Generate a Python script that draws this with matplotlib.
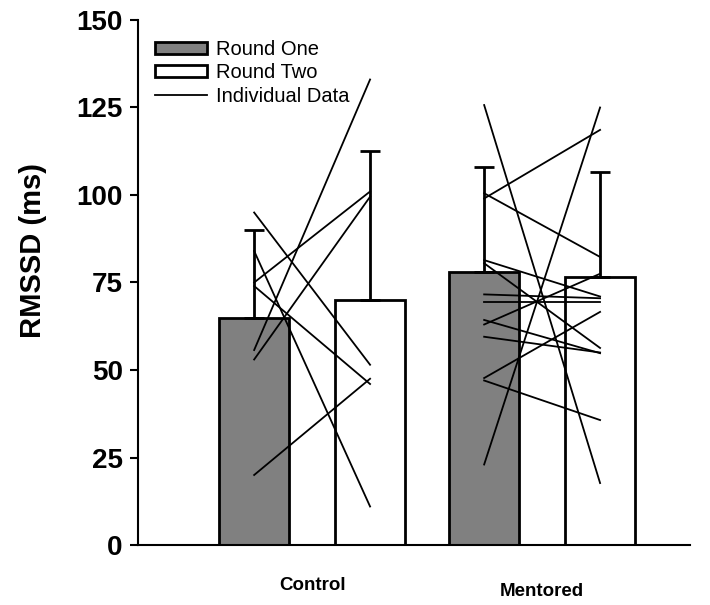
import matplotlib
matplotlib.use('Agg')
import matplotlib.pyplot as plt
import numpy as np
from matplotlib.patches import Patch
from matplotlib.lines import Line2D

plt.rcParams['font.family'] = ['Liberation Sans', 'DejaVu Sans']

# group labels and bar data
groups = ['Control', 'Mentored']
round_one = [65, 78]
round_two = [70, 76.5]
round_one_sd = [25, 30]
round_two_sd = [42.5, 30]

# individual data: (round one, round two) per subject
control_r1 = [55.7, 53, 75, 95, 84, 74, 20]
control_r2 = [133, 99.5, 101, 51.5, 11, 46, 47.5]
mentored_r1 = [125.7, 23, 99, 100.5, 81.4, 80.5, 71.6, 69.5, 64.3, 63, 59.5, 47.7, 47]
mentored_r2 = [17.7, 125, 118.6, 82.3, 71, 56.3, 70.5, 69.5, 54.8, 77.5, 55, 66.6, 35.7]

fig = plt.figure(figsize=(7.1, 6.05), dpi=100)
ax = fig.add_axes([138/710, 60/605, 552/710, 525/605])

x = np.arange(len(groups))
off = 0.252
w = 0.304

ax.bar(x - off, round_one, w, color='#808080', edgecolor='black', linewidth=2, zorder=2, label='Round One')
ax.bar(x + off, round_two, w, color='white', edgecolor='black', linewidth=2, zorder=2, label='Round Two')
ax.errorbar(x - off, round_one, yerr=[np.zeros(2), round_one_sd], fmt='none', ecolor='black',
            elinewidth=2, capsize=7, capthick=2, zorder=3)
ax.errorbar(x + off, round_two, yerr=[np.zeros(2), round_two_sd], fmt='none', ecolor='black',
            elinewidth=2, capsize=7, capthick=2, zorder=3)

# individual lines
for a, b in zip(control_r1, control_r2):
    ax.plot([x[0] - off, x[0] + off], [a, b], color='black', lw=1.3, zorder=4)
for a, b in zip(mentored_r1, mentored_r2):
    ax.plot([x[1] - off, x[1] + off], [a, b], color='black', lw=1.3, zorder=4)

ax.set_xlim(-0.757, 1.643)
ax.set_ylim(0, 150)
ax.set_yticks([0, 25, 50, 75, 100, 125, 150])
ax.set_xticks(x)
ax.set_xticklabels(groups, fontsize=13.5, fontweight='bold')
ax.tick_params(axis='x', length=0, pad=23)
ax.tick_params(axis='y', direction='out', length=6, width=1.5, labelsize=20, pad=5)
for lab in ax.get_yticklabels():
    lab.set_fontweight('bold')
# second group label sits a little lower in the original
ax.get_xticklabels()[1].set_y(-0.012)
ax.set_ylabel('RMSSD (ms)', fontsize=21, fontweight='bold')
ax.yaxis.set_label_coords(-0.165, 0.56)

for s in ['top', 'right']:
    ax.spines[s].set_visible(False)
for s in ['left', 'bottom']:
    ax.spines[s].set_linewidth(1.5)

handles = [Patch(facecolor='#808080', edgecolor='black', linewidth=2),
           Patch(facecolor='white', edgecolor='black', linewidth=2),
           Line2D([0], [0], color='black', lw=1.3)]
ax.legend(handles, ['Round One', 'Round Two', 'Individual Data'], loc='upper left',
          bbox_to_anchor=(0.03, 0.962), frameon=False, fontsize=14.5, borderpad=0,
          borderaxespad=0, handlelength=2.6, handleheight=0.55, handletextpad=0.45,
          labelspacing=0.22)

fig.savefig('out.png', dpi=100)
